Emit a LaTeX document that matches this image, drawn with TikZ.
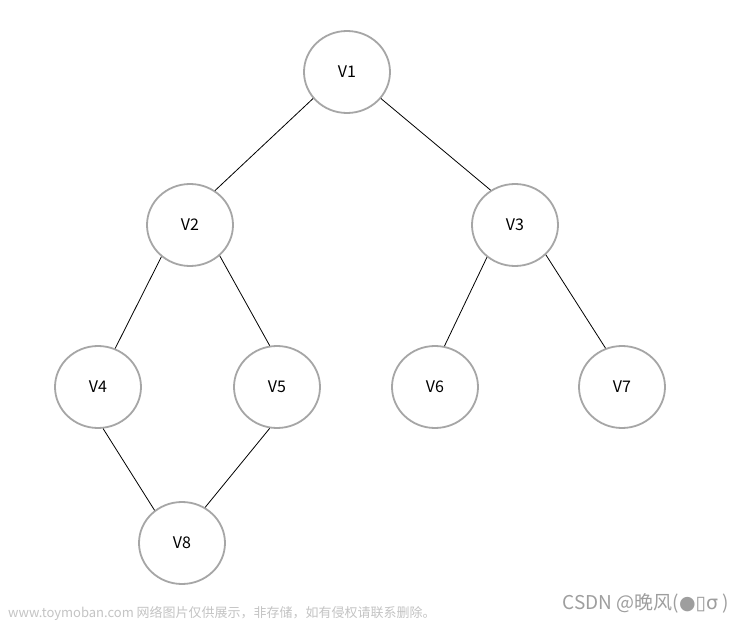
\documentclass[tikz,border=0pt]{standalone}
\usepackage{fontspec}
\setmainfont{Noto Sans CJK SC}
\newfontfamily\symfont{DejaVu Sans}
\usetikzlibrary{shapes.geometric}
\definecolor{ringgray}{HTML}{A6A6A6}
\definecolor{wmgray}{HTML}{C4C4C4}
\definecolor{csdngray}{HTML}{9E9E9E}
\tikzset{
  vnode/.style={ellipse, draw=ringgray, line width=1.8pt, fill=white,
    minimum width=86pt, minimum height=82pt, inner sep=0pt,
    font=\fontsize{16pt}{18pt}\selectfont},
  tedge/.style={draw=black, line width=0.8pt},
}
\begin{document}
\begin{tikzpicture}[x=1pt,y=-1pt]
\useasboundingbox[fill=white] (0,0) rectangle (742,623);
\node[vnode] (V1) at (347,72) {V1};
\node[vnode] (V2) at (190,225) {V2};
\node[vnode] (V3) at (515,225) {V3};
\node[vnode] (V4) at (98,387) {V4};
\node[vnode] (V5) at (277,387) {V5};
\node[vnode] (V6) at (435,387) {V6};
\node[vnode] (V7) at (622,387) {V7};
\node[vnode] (V8) at (182,543) {V8};
\draw[tedge] (V1.218) -- (V2.54);
\draw[tedge] (V1.322) -- (V3.125);
\draw[tedge] (V2.228) -- (V4.66);
\draw[tedge] (V2.314) -- (V5.100);
\draw[tedge] (V3.229) -- (V6.77);
\draw[tedge] (V3.316) -- (V7.113);
\draw[tedge] (V4.277) -- (V8.130);
\draw[tedge] (V5.260) -- (V8.57);
\node[anchor=west, text=wmgray, inner sep=0pt, font=\fontsize{13pt}{15pt}\selectfont] (wm) at (8,613) {www.toymoban.com 网络图片仅供展示，非存储，如有侵权请联系删除。};
\node[anchor=east, text=csdngray, inner sep=0pt, font=\fontsize{19pt}{21pt}\selectfont] (csdn) at (729,603) {CSDN @晚风({\symfont ●▯σ} )};
\end{tikzpicture}
\end{document}
